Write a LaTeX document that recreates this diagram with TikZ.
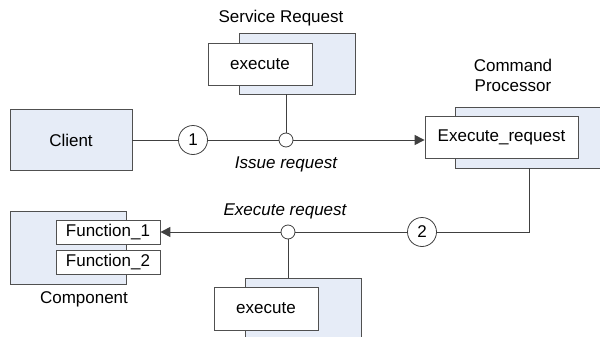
\documentclass[tikz,border=0pt]{standalone}
\usepackage{fontspec}
\setmainfont{Liberation Sans}
\usepackage{xcolor}
\usetikzlibrary{arrows.meta, shapes, positioning}

\definecolor{boxfill}{HTML}{E6ECF7}
\definecolor{boxline}{HTML}{505050}
\definecolor{wire}{HTML}{404040}

\begin{document}
\begin{tikzpicture}[
  x=0.5pt, y=-0.5pt,
  font=\fontsize{8.5}{10}\selectfont,
  backbox/.style={
    draw=boxline,
    fill=boxfill,
    rectangle,
    minimum width=58pt,
    minimum height=30.5pt,
    inner sep=0pt
  },
  frontbox/.style={
    draw=boxline,
    fill=white,
    rectangle,
    minimum width=52pt,
    minimum height=21pt,
    inner sep=0pt
  },
  numnode/.style={draw=wire, fill=white, circle, minimum size=14.5pt, inner sep=0pt},
  portnode/.style={draw=wire, fill=white, circle, minimum size=7pt, inner sep=0pt},
  wireline/.style={draw=wire, line width=0.5pt},
  arrow/.style={wireline, -{Triangle[length=5pt, width=5pt]}}
]
\useasboundingbox (0,0) rectangle (600,337);

% Boxes
\node[backbox, minimum width=61pt] (client) at (71,140) {Client};

\node[backbox] (srback) at (297,63.5) {};
\node[frontbox] (srfront) at (260,64) {execute};
\node (srlabel) at (281,18) {Service Request};

\node[backbox, minimum width=74pt] (cpback) at (529,137.5) {};
\node[frontbox, minimum width=76.5pt] (cpfront) at (501.5,137) {Execute\_request};
\node[align=center] (cplabel) at (513,75.5) {Command\\Processor};

\node[backbox, minimum height=36.5pt] (compback) at (68,247.5) {};
\node[frontbox, minimum height=12pt] (func1) at (108,232) {Function\_1};
\node[frontbox, minimum height=12pt] (func2) at (108,262) {Function\_2};
\node (complabel) at (84,299) {Component};

\node[backbox, minimum height=33.5pt] (execback) at (303,311.5) {};
\node[frontbox, minimum height=21.5pt] (execfront) at (266,308.5) {execute};

% Connectors
\node[numnode] (one) at (193,140) {1};
\node[portnode] (issue) at (286,140) {};
\node[numnode] (two) at (422,232) {2};
\node[portnode] (exec) at (288,232) {};
\coordinate (turn) at (529,232);

\draw[wireline] (client) -- (one);
\draw[wireline] (one) -- (issue);
\draw[arrow] (issue) -- (issue -| cpfront.west);
\draw[wireline] (srback.south -| issue) -- (issue);

\draw[wireline] (cpback.south) -- (turn) -- (two);
\draw[wireline] (two) -- (exec);
\draw[arrow] (exec) -- (func1);
\draw[wireline] (exec) -- (execback.north -| exec);

% Labels
\node[font=\fontsize{8.5}{10}\selectfont\itshape] (issuelabel) at (286,164) {Issue request};
\node[font=\fontsize{8.5}{10}\selectfont\itshape] (execlabel) at (285,211) {Execute request};

\end{tikzpicture}
\end{document}
